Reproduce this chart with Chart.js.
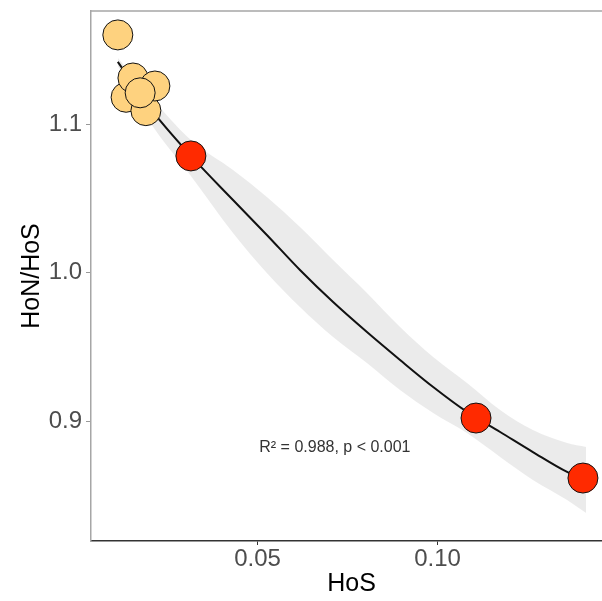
<!DOCTYPE html>
<html>
<head>
<meta charset="utf-8">
<script src="https://cdn.jsdelivr.net/npm/chart.js@4"></script>
<style>
  html, body { margin: 0; padding: 0; background: #fff; overflow: hidden; }
  canvas { display: block; }
</style>
</head>
<body>
<canvas id="grafico" width="612" height="601"></canvas>
<script>
// datos
const puntosNaranjaX = [0.0112, 0.0135, 0.0190, 0.0154, 0.0215, 0.0174];
const puntosNaranjaY = [1.160, 1.118, 1.109, 1.131, 1.1256, 1.121];
const puntosRojoX = [0.0315, 0.1107, 0.1404];
const puntosRojoY = [1.0785, 0.902, 0.8616];

// curva ajustada y banda de confianza
const ajusteX = [0.0112, 0.0201, 0.0315, 0.0432, 0.0526, 0.0618, 0.0710, 0.0804, 0.0896, 0.0988, 0.1082, 0.1174, 0.1265, 0.1360, 0.1413];
const ajusteY = [1.1418, 1.1108, 1.0785, 1.0488, 1.0253, 1.0017, 0.9801, 0.9599, 0.9411, 0.9229, 0.9061, 0.8926, 0.8791, 0.8657, 0.8603];
const bandaSup = [1.1444, 1.1189, 1.0892, 1.0690, 1.0508, 1.0306, 1.0084, 0.9862, 0.9633, 0.9431, 0.9256, 0.9074, 0.8939, 0.8852, 0.8825];
const bandaInf = [1.1391, 1.1013, 1.0650, 1.0266, 0.9997, 0.9768, 0.9566, 0.9391, 0.9209, 0.9054, 0.8919, 0.8758, 0.8603, 0.8468, 0.8380];

const ticksX = [0.05, 0.10];
const ticksY = [0.9, 1.0, 1.1];
const etiquetaR2 = 'R\u00b2 = 0.988, p < 0.001';

function pares(xs, ys){
    return xs.map((x, i) => ({x: x, y: ys[i]}));
}

function sinPadding(s){
    s.paddingTop = 0;
    s.paddingBottom = 0;
    s.paddingLeft = 0;
    s.paddingRight = 0;
}

const fuente = 'Liberation Sans, Arial, sans-serif';

const marco = {
    id: 'marco',
    beforeDatasetsDraw(chart){
        const {ctx, chartArea} = chart;
        ctx.save();
        ctx.strokeStyle = '#a6a6a6';
        ctx.lineWidth = 1.5;
        ctx.beginPath();
        ctx.moveTo(chartArea.left, chartArea.top);
        ctx.lineTo(chartArea.right, chartArea.top);
        ctx.stroke();
        ctx.restore();
    },
    afterDatasetsDraw(chart){
        const {ctx, scales} = chart;
        ctx.save();
        ctx.fillStyle = '#333';
        ctx.font = '16px ' + fuente;
        ctx.textAlign = 'center';
        ctx.textBaseline = 'middle';
        ctx.fillText(etiquetaR2, scales.x.getPixelForValue(0.0715), scales.y.getPixelForValue(0.8818));
        ctx.restore();
    }
};

let grafico = new Chart(
    document.getElementById('grafico').getContext('2d'),
    {
        type: 'line',
        data: {
            datasets: [{
                data: pares(ajusteX, bandaSup),
                borderWidth: 0,
                pointRadius: 0,
                fill: '+1',
                backgroundColor: 'rgba(153,153,153,0.2)',
                cubicInterpolationMode: 'monotone',
                order: 4
            }, {
                data: pares(ajusteX, bandaInf),
                borderWidth: 0,
                pointRadius: 0,
                fill: false,
                cubicInterpolationMode: 'monotone',
                order: 5
            }, {
                data: pares(ajusteX, ajusteY),
                borderColor: '#111',
                borderWidth: 2,
                pointRadius: 0,
                fill: false,
                cubicInterpolationMode: 'monotone',
                order: 3
            }, {
                data: pares(puntosNaranjaX, puntosNaranjaY),
                showLine: false,
                pointRadius: 15,
                pointBackgroundColor: '#fed27f',
                pointBorderColor: '#111',
                pointBorderWidth: 1,
                order: 1
            }, {
                data: pares(puntosRojoX, puntosRojoY),
                showLine: false,
                pointRadius: 15,
                pointBackgroundColor: '#ff2a00',
                pointBorderColor: '#111',
                pointBorderWidth: 1,
                order: 0
            }]
        },
        options: {
            responsive: false,
            animation: false,
            layout: { autoPadding: false, padding: { top: 11, right: 0, bottom: 0, left: 0 } },
            plugins: { legend: { display: false }, tooltip: { enabled: false } },
            scales: {
                x: {
                    type: 'linear',
                    min: 0.00375,
                    max: 0.14847,
                    afterFit: s => { s.height = 60; sinPadding(s); },
                    afterBuildTicks: s => { s.ticks = ticksX.map(v => ({value: v})); },
                    grid: { drawOnChartArea: false, tickLength: 4, tickColor: '#333' },
                    border: { color: '#333', width: 1.5 },
                    ticks: {
                        color: '#4d4d4d',
                        font: { family: fuente, size: 24 },
                        padding: 0,
                        maxRotation: 0,
                        callback: v => v.toFixed(2)
                    },
                    title: {
                        display: true,
                        text: 'HoS',
                        color: '#000',
                        font: { family: fuente, size: 25 },
                        padding: { top: 0, bottom: 2 }
                    }
                },
                y: {
                    type: 'linear',
                    min: 0.8192,
                    max: 1.1761,
                    afterFit: s => { s.width = 91; sinPadding(s); },
                    afterBuildTicks: s => { s.ticks = ticksY.map(v => ({value: v})); },
                    grid: { drawOnChartArea: false, tickLength: 5, tickColor: '#999' },
                    border: { color: '#a6a6a6', width: 1.5 },
                    ticks: {
                        color: '#4d4d4d',
                        font: { family: fuente, size: 24 },
                        padding: 4,
                        callback: v => v.toFixed(1)
                    },
                    title: {
                        display: true,
                        text: 'HoN/HoS',
                        color: '#000',
                        font: { family: fuente, size: 25 },
                        padding: { top: 17, bottom: 0 }
                    }
                }
            }
        },
        plugins: [marco]
    });
</script>
</body>
</html>
